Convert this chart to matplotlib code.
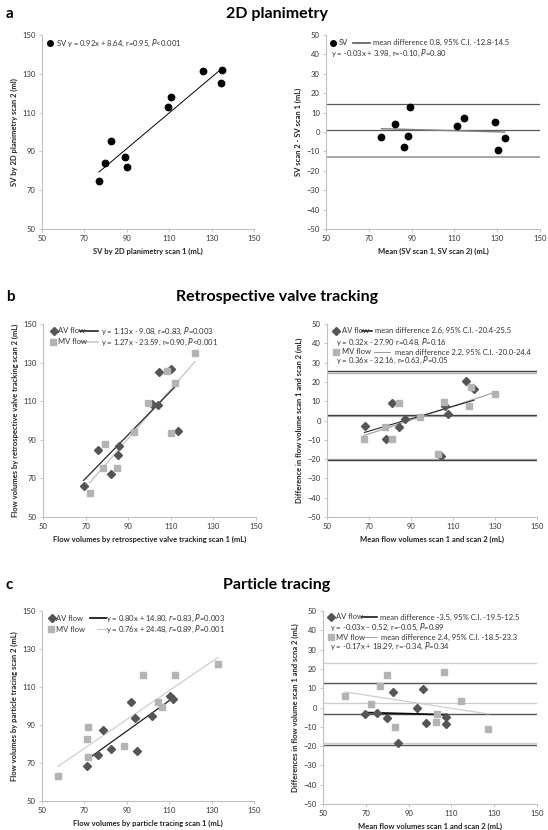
import numpy as np
import matplotlib
matplotlib.use("Agg")
import matplotlib.pyplot as plt

plt.rcParams['font.family'] = ['Lato', 'DejaVu Sans']

# ---- data ----
# a: 2D planimetry
sv_scan1 = [76.9, 79.9, 82.4, 89.2, 89.9, 109.6, 110.7, 126.1, 134.7, 134.6]
sv_scan2 = [74.6, 83.8, 95.4, 87.3, 82.1, 112.9, 118.2, 131.3, 131.8, 125.4]
sv_ba_mean = [75.9, 82.1, 86.3, 88.3, 89.1, 111.4, 114.6, 128.8, 130.2, 133.5]
sv_ba_diff = [-2.4, 4.0, -7.7, -1.9, 12.9, 3.3, 7.4, 5.2, -9.1, -2.9]

# b: retrospective valve tracking
rvt_av_s1 = [69.1, 75.6, 81.9, 85.3, 85.8, 101.1, 104.1, 104.4, 110.2, 113.3]
rvt_av_s2 = [66.1, 84.5, 72.5, 82.0, 86.6, 108.7, 107.8, 124.9, 126.5, 94.7]
rvt_mv_s1 = [71.9, 78.4, 79.1, 84.8, 92.5, 99.2, 108.3, 110.2, 112.2, 121.4]
rvt_mv_s2 = [62.4, 75.2, 88.0, 75.2, 93.9, 109.2, 125.5, 93.4, 119.6, 135.1]
rvt_av_mean = [67.9, 77.9, 80.8, 84.4, 87.1, 104.5, 106.2, 107.6, 116.2, 120.0]
rvt_av_diff = [-2.7, -9.6, 8.9, -3.4, 0.6, -18.5, 7.5, 3.4, 20.5, 16.3]
rvt_mv_mean = [67.5, 77.5, 80.8, 84.4, 94.1, 103.0, 105.7, 117.6, 118.6, 130.0]
rvt_mv_diff = [-9.4, -3.2, -9.6, 8.9, 1.6, -17.2, 9.6, 7.5, 17.4, 13.6]

# c: particle tracing
pt_av_s1 = [71.4, 76.6, 79.0, 82.7, 92.1, 94.0, 94.7, 102.0, 110.2, 111.9]
pt_av_s2 = [68.3, 74.1, 87.3, 77.3, 102.2, 93.9, 76.2, 94.5, 105.4, 103.6]
pt_mv_s1 = [57.4, 71.4, 71.7, 71.7, 88.8, 97.5, 104.9, 106.8, 112.9, 133.0]
pt_mv_s2 = [63.4, 82.5, 88.8, 73.2, 78.9, 116.1, 102.0, 99.4, 116.4, 121.9]
pt_av_mean = [69.7, 75.2, 79.8, 82.7, 85.2, 94.1, 96.8, 98.0, 107.5, 107.5]
pt_av_diff = [-3.2, -2.7, -5.6, 8.2, -18.6, -0.3, 9.6, -7.9, -5.1, -8.5]
pt_mv_mean = [60.2, 72.2, 76.6, 80.0, 83.8, 102.7, 103.3, 106.7, 114.5, 127.3]
pt_mv_diff = [6.0, 1.6, 11.0, 17.0, -10.1, -7.3, -3.2, 18.2, 3.4, -11.1]

# Bland-Altman limits (mean, lower, upper)
sv_limits = (0.8, -12.8, 14.5)
rvt_av_limits = (2.6, -20.4, 25.5)
rvt_mv_limits = (2.2, -20.0, 24.4)
pt_av_limits = (-3.5, -19.5, 12.5)
pt_mv_limits = (2.4, -18.5, 23.3)

DARK = '#555555'
LIGHT = '#b3b3b3'
W, H = 548, 830


def make_axes(fig, l, r, t, b):
    ax = fig.add_axes([l / W, 1 - b / H, (r - l) / W, (b - t) / H])
    for s in ['top', 'right']:
        ax.spines[s].set_visible(False)
    for s in ['left', 'bottom']:
        ax.spines[s].set_color('#bfbfbf')
        ax.spines[s].set_linewidth(0.8)
    ax.tick_params(direction='out', length=2.5, width=0.6, color='#bfbfbf',
                   labelsize=5.5, labelcolor='#333333', pad=2)
    ax.set_xlim(50, 150)
    ax.set_xticks(np.arange(50, 151, 20))
    return ax


def fit_line(ax, x, slope, icpt, **kw):
    xs = np.array([min(x), max(x)])
    ax.plot(xs, slope * xs + icpt, **kw)


def legend_row(ax, y, marker=None, mcolor=None, label=None, line=None, text=None,
               mx=0.04, lx=0.06, seg=None, tx=None):
    tr = ax.transAxes
    if marker:
        ax.plot([mx], [y], marker=marker, color=mcolor, ms=4.0, ls='none', transform=tr, clip_on=False)
        ax.text(lx, y, label, transform=tr, fontsize=5.5, va='center', color='#333333')
    if seg:
        ax.plot(seg, [y, y], transform=tr, clip_on=False, **line)
    if text:
        ax.text(tx, y, text, transform=tr, fontsize=5.5, va='center', color='#333333')


def lab(ax, xl, yl):
    ax.set_xlabel(xl, fontsize=5.5, fontweight='bold', labelpad=4, color='#222222')
    ax.set_ylabel(yl, fontsize=5.5, fontweight='bold', labelpad=3, color='#222222')


fig = plt.figure(figsize=(W / 100, H / 100), dpi=100)

# titles
for letter, title, y in [('a', '2D planimetry', 14), ('b', 'Retrospective valve tracking', 297),
                         ('c', 'Particle tracing', 585)]:
    fig.text(6 / W, 1 - y / H, letter, fontsize=11, fontweight='bold', va='center')
    fig.text(277 / W, 1 - y / H, title, fontsize=11.5, fontweight='bold', va='center', ha='center')

# ---- a left ----
ax = make_axes(fig, 42, 254, 35, 229)
ax.set_ylim(50, 150)
ax.set_yticks(np.arange(50, 151, 20))
ax.plot(sv_scan1, sv_scan2, 'o', color='black', ms=4.6)
fit_line(ax, sv_scan1, 0.92, 8.64, color='black', lw=0.7)
legend_row(ax, 0.959, 'o', 'black', '', mx=0.038)
ax.text(0.064, 0.959, 'SV y = 0.92x + 8.64, r=0.95, $\\it{P}$<0.001', transform=ax.transAxes,
        fontsize=5.5, va='center', color='#333333')
lab(ax, 'SV by 2D planimetry scan 1 (mL)', 'SV by 2D planimetry scan 2 (ml)')

# ---- a right ----
ax = make_axes(fig, 326, 540, 35, 229)
ax.set_ylim(-50, 50)
ax.set_yticks(np.arange(-50, 51, 10))
ax.axhline(sv_limits[0], color='#595959', lw=0.9)
ax.axhline(sv_limits[2], color='#595959', lw=0.9)
ax.axhline(sv_limits[1], color='#a6a6a6', lw=1.4)
fit_line(ax, sv_ba_mean, -0.03, 3.98, color='#808080', lw=1.0)
ax.plot(sv_ba_mean, sv_ba_diff, 'o', color='black', ms=4.6)
legend_row(ax, 0.959, 'o', 'black', 'SV', line=dict(color='#595959', lw=1.2),
           mx=0.033, lx=0.058, seg=[0.126, 0.206],
           text='mean difference 0.8, 95% C.I. -12.8-14.5', tx=0.22)
ax.text(0.023, 0.907, 'y = -0.03x + 3.98, r=-0.10, $\\it{P}$=0.80', transform=ax.transAxes,
        fontsize=5.5, va='center', color='#333333')
lab(ax, 'Mean (SV scan 1, SV scan 2) (mL)', 'SV scan 2 - SV scan 1 (mL)')

# ---- b left ----
ax = make_axes(fig, 43, 256, 324, 517)
ax.set_ylim(50, 150)
ax.set_yticks(np.arange(50, 151, 20))
fit_line(ax, rvt_mv_s1, 1.27, -23.59, color='#c8c8c8', lw=1.0)
fit_line(ax, rvt_av_s1, 1.13, -9.08, color='#262626', lw=0.9)
ax.plot(rvt_av_s1, rvt_av_s2, 'D', color=DARK, ms=3.6)
ax.plot(rvt_mv_s1, rvt_mv_s2, 's', color=LIGHT, ms=4.4)
legend_row(ax, 0.964, 'D', DARK, 'AV flow', line=dict(color='#262626', lw=1.2),
           mx=0.05, lx=0.072, seg=[0.175, 0.256],
           text='y = 1.13x - 9.08, r=0.83, $\\it{P}$=0.003', tx=0.27)
legend_row(ax, 0.907, 's', LIGHT, 'MV flow', line=dict(color='#c8c8c8', lw=1.2),
           mx=0.045, lx=0.072, seg=[0.175, 0.256],
           text='y = 1.27x - 23.59, r=0.90, $\\it{P}$<0.001', tx=0.27)
lab(ax, 'Flow volumes by retrospective valve tracking scan 1 (mL)',
    'Flow volumes by retrospective valve tracking scan 2 (mL)')

# ---- b right ----
ax = make_axes(fig, 327, 537, 324, 517)
ax.set_ylim(-50, 50)
ax.set_yticks(np.arange(-50, 51, 10))
for v in rvt_mv_limits:
    ax.axhline(v, color=LIGHT, lw=1.0)
for v in rvt_av_limits:
    ax.axhline(v, color='#404040', lw=1.0)
fit_line(ax, rvt_mv_mean, 0.36, -32.16, color='#9a9a9a', lw=0.8)
fit_line(ax, rvt_av_mean, 0.32, -27.90, color='#262626', lw=0.8)
ax.plot(rvt_av_mean, rvt_av_diff, 'D', color=DARK, ms=3.6)
ax.plot(rvt_mv_mean, rvt_mv_diff, 's', color=LIGHT, ms=4.4)
legend_row(ax, 0.964, 'D', DARK, 'AV flow', line=dict(color='#262626', lw=1.2),
           mx=0.045, lx=0.07, seg=[0.168, 0.214],
           text='mean difference 2.6, 95% C.I. -20.4-25.5', tx=0.228)
ax.text(0.043, 0.907, 'y = 0.32x - 27.90 r=0.48, $\\it{P}$=0.16', transform=ax.transAxes,
        fontsize=5.5, va='center', color='#333333')
legend_row(ax, 0.855, 's', LIGHT, 'MV flow', line=dict(color='#9a9a9a', lw=0.7),
           mx=0.045, lx=0.07, seg=[0.222, 0.298],
           text='mean difference 2.2, 95% C.I. -20.0-24.4', tx=0.326)
ax.text(0.043, 0.813, 'y = 0.36x - 32.16, r=0.63, $\\it{P}$=0.05', transform=ax.transAxes,
        fontsize=5.5, va='center', color='#333333')
lab(ax, 'Mean flow volumes scan 1 and scan 2 (mL)', 'Difference in flow volume scan 1 and scan 2 (mL)')

# ---- c left ----
ax = make_axes(fig, 42, 254, 611, 801)
ax.set_ylim(50, 150)
ax.set_yticks(np.arange(50, 151, 20))
fit_line(ax, pt_mv_s1, 0.76, 24.48, color='#c8c8c8', lw=0.8)
fit_line(ax, pt_av_s1, 0.80, 14.80, color='#1a1a1a', lw=0.9)
ax.plot(pt_av_s1, pt_av_s2, 'D', color=DARK, ms=3.6)
ax.plot(pt_mv_s1, pt_mv_s2, 's', color=LIGHT, ms=4.4)
legend_row(ax, 0.963, 'D', DARK, 'AV flow', line=dict(color='#1a1a1a', lw=1.3),
           mx=0.045, lx=0.066, seg=[0.228, 0.30],
           text='y = 0.80x + 14.80, $\\it{r}$=0.83, $\\it{P}$=0.003', tx=0.30)
legend_row(ax, 0.905, 's', LIGHT, 'MV flow', line=dict(color='#c8c8c8', lw=0.8),
           mx=0.042, lx=0.066, seg=[0.26, 0.30],
           text='y = 0.76x + 24.48, $\\it{r}$=0.89, $\\it{P}$=0.001', tx=0.30)
lab(ax, 'Flow volumes by particle tracing scan 1 (mL)', 'Flow volumes by particle tracing scan 2 (mL)')

# ---- c right ----
ax = make_axes(fig, 323, 537, 611, 804)
ax.set_ylim(-50, 50)
ax.set_yticks(np.arange(-50, 51, 10))
for v in pt_mv_limits:
    ax.axhline(v, color='#cccccc', lw=0.9)
for v in pt_av_limits:
    ax.axhline(v, color='#555555', lw=1.0)
fit_line(ax, pt_mv_mean, -0.17, 18.29, color='#c8c8c8', lw=0.8)
fit_line(ax, pt_av_mean, -0.03, -0.52, color='#111111', lw=1.3)
ax.plot(pt_av_mean, pt_av_diff, 'D', color=DARK, ms=3.6)
ax.plot(pt_mv_mean, pt_mv_diff, 's', color=LIGHT, ms=4.4)
legend_row(ax, 0.969, 'D', DARK, 'AV flow', line=dict(color='#1a1a1a', lw=1.2),
           mx=0.037, lx=0.06, seg=[0.18, 0.25],
           text='mean difference -3.5, 95% C.I. -19.5-12.5', tx=0.266)
ax.text(0.033, 0.917, 'y = -0.03x \u2013 0.52, r=-0.05, $\\it{P}$=0.89', transform=ax.transAxes,
        fontsize=5.5, va='center', color='#333333')
legend_row(ax, 0.865, 's', LIGHT, 'MV flow', line=dict(color='#aaaaaa', lw=0.7),
           mx=0.037, lx=0.06, seg=[0.19, 0.25],
           text='mean difference 2.4, 95% C.I. -18.5-23.3', tx=0.271)
ax.text(0.033, 0.818, 'y = -0.17x + 18.29, r=-0.34, $\\it{P}$=0.34', transform=ax.transAxes,
        fontsize=5.5, va='center', color='#333333')
lab(ax, 'Mean flow volumes scan 1 and scan 2 (mL)', 'Differences in flow volume scan 1 and scna 2 (mL)')

fig.savefig('out.png', dpi=100)
